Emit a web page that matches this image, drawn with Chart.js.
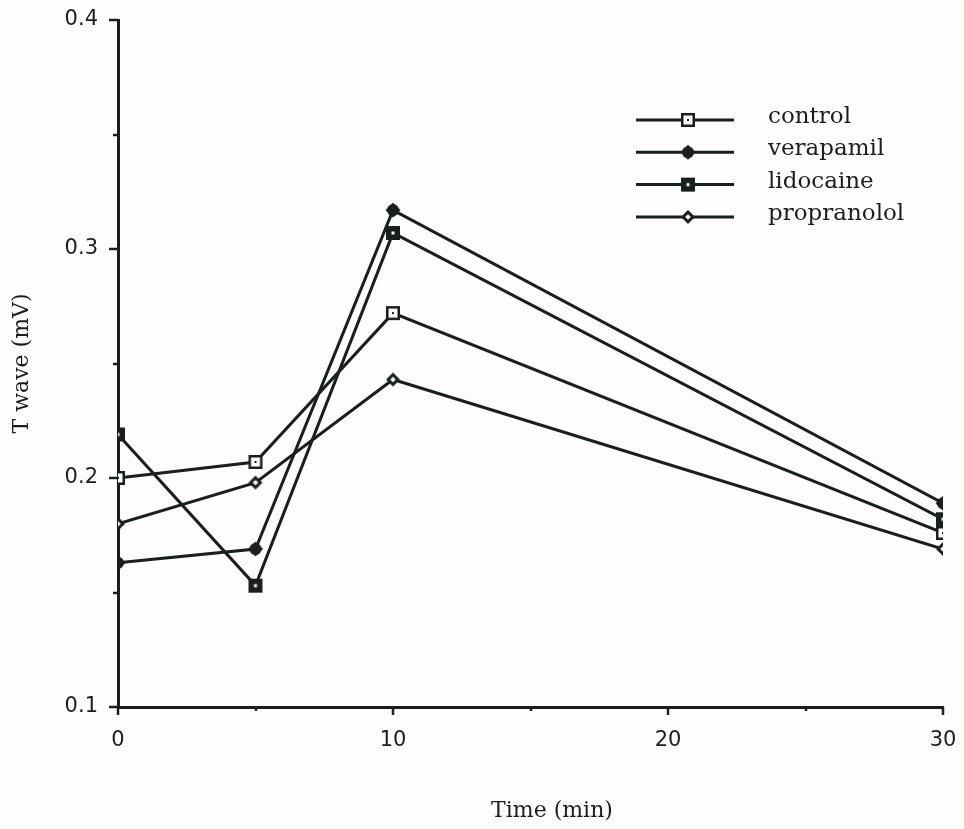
<!DOCTYPE html>
<html>
<head>
<meta charset="utf-8">
<script src="https://cdn.jsdelivr.net/npm/chart.js@4.4.1/dist/chart.umd.min.js"></script>
<style>
  html, body { margin: 0; padding: 0; background: #fdfdfb; }
  #wrap { width: 964px; height: 829px; position: relative; }
</style>
</head>
<body>
<div id="wrap"><canvas id="c" width="964" height="829"></canvas></div>
<script>
// ---- data ----
const times = [0, 5, 10, 30];
const control = [0.200, 0.207, 0.272, 0.176];
const verapamil = [0.163, 0.169, 0.317, 0.189];
const lidocaine = [0.219, 0.153, 0.307, 0.182];
const propranolol = [0.180, 0.198, 0.243, 0.169];
const seriesNames = ['control', 'verapamil', 'lidocaine', 'propranolol'];
const yTickLabels = [0.1, 0.2, 0.3, 0.4];
const xTickLabels = [0, 10, 20, 30];
const xTitle = 'Time (min)';
const yTitle = 'T wave (mV)';

const INK = '#17201b';

function marker(kind) {
  const c = document.createElement('canvas');
  c.width = 18; c.height = 18;
  const g = c.getContext('2d');
  g.fillStyle = INK;
  if (kind === 'control') {
    g.fillRect(2, 2, 14, 14);
    g.fillStyle = '#ffffff';
    g.fillRect(4.5, 4.5, 9, 9);
    g.fillStyle = INK;
    g.fillRect(8, 8, 2, 2);
  } else if (kind === 'lidocaine') {
    g.fillRect(2, 2, 14, 14);
    g.fillStyle = '#ffffff';
    g.fillRect(7.5, 7.5, 3, 3);
  } else if (kind === 'verapamil') {
    g.beginPath();
    g.moveTo(9, 1.5); g.lineTo(16.5, 9); g.lineTo(9, 16.5); g.lineTo(1.5, 9); g.closePath();
    g.fill();
    g.beginPath(); g.arc(9, 9, 6, 0, Math.PI * 2); g.fill();
  } else {
    g.beginPath();
    g.moveTo(9, 2); g.lineTo(16, 9); g.lineTo(9, 16); g.lineTo(2, 9); g.closePath();
    g.fill();
    g.fillStyle = '#ffffff';
    g.beginPath();
    g.moveTo(9, 6.2); g.lineTo(11.8, 9); g.lineTo(9, 11.8); g.lineTo(6.2, 9); g.closePath();
    g.fill();
  }
  return c;
}

const seriesValues = [control, verapamil, lidocaine, propranolol];
const markers = seriesNames.map(marker);

const datasets = seriesNames.map((name, i) => ({
  label: name,
  data: times.map((t, j) => ({ x: t, y: seriesValues[i][j] })),
  borderColor: INK,
  backgroundColor: INK,
  borderWidth: 3,
  pointStyle: markers[i],
  pointRadius: 8,
  pointHoverRadius: 8,
  tension: 0,
  clip: 0
}));

const tickPlugin = {
  id: 'ticksAndLegend',
  afterDraw(chart) {
    const ctx = chart.ctx;
    const xs = chart.scales.x, ys = chart.scales.y;
    const area = chart.chartArea;
    ctx.save();
    ctx.strokeStyle = INK;
    ctx.lineWidth = 2.5;
    // y ticks
    for (let v = 0.1; v <= 0.4001; v += 0.05) {
      const y = Math.round(ys.getPixelForValue(v));
      const major = yTickLabels.some(t => Math.abs(t - v) < 1e-6);
      ctx.beginPath();
      ctx.moveTo(area.left, y);
      ctx.lineTo(area.left - (major ? 9 : 5), y);
      ctx.stroke();
    }
    // x ticks
    for (let v = 0; v <= 30; v += 5) {
      const x = Math.round(xs.getPixelForValue(v));
      const major = xTickLabels.includes(v);
      ctx.beginPath();
      ctx.moveTo(x, area.bottom);
      ctx.lineTo(x, area.bottom + (major ? 8 : 4));
      ctx.stroke();
    }
    // x axis title
    ctx.fillStyle = INK;
    ctx.font = '22px "DejaVu Serif"';
    ctx.textAlign = 'center';
    ctx.textBaseline = 'middle';
    ctx.fillText(xTitle, 552, 811);
    // legend
    const lx0 = 636, lx1 = 734, mx = 688, tx = 768;
    let ly = 120;
    ctx.textAlign = 'left';
    ctx.font = '23px "DejaVu Serif"';
    chart.data.datasets.forEach((ds, i) => {
      ctx.beginPath();
      ctx.lineWidth = 3;
      ctx.moveTo(lx0, ly); ctx.lineTo(lx1, ly); ctx.stroke();
      ctx.drawImage(markers[i], mx - 9, ly - 9, 18, 18);
      ctx.fillText(ds.label, tx, ly - 3);
      ly += 32.3;
    });
    ctx.restore();
  }
};

new Chart(document.getElementById('c'), {
  type: 'line',
  data: { datasets },
  plugins: [tickPlugin],
  options: {
    responsive: false,
    animation: false,
    events: [],
    layout: { padding: { top: 20, right: 21, left: 0, bottom: 0 } },
    plugins: { legend: { display: false }, tooltip: { enabled: false } },
    scales: {
      x: {
        type: 'linear',
        min: 0, max: 30,
        afterFit(s) { s.height = 122; s.paddingLeft = 0; s.paddingRight = 0; },
        grid: { display: true, drawOnChartArea: false, drawTicks: false },
        border: { display: true, color: INK, width: 3 },
        ticks: {
          stepSize: 10,
          autoSkip: false,
          padding: 21,
          color: INK,
          font: { family: '"DejaVu Sans"', size: 21 },
          callback: v => xTickLabels.includes(v) ? String(v) : ''
        },
        title: { display: false }
      },
      y: {
        min: 0.1, max: 0.4,
        afterFit(s) { s.width = 118; s.paddingTop = 0; s.paddingBottom = 0; },
        grid: { display: true, drawOnChartArea: false, drawTicks: false },
        border: { display: true, color: INK, width: 3 },
        ticks: {
          stepSize: 0.1,
          autoSkip: false,
          padding: 20,
          color: INK,
          font: { family: '"DejaVu Sans"', size: 21 },
          callback: v => yTickLabels.some(t => Math.abs(t - v) < 1e-6) ? v.toFixed(1) : ''
        },
        title: {
          display: true, text: yTitle, color: INK,
          font: { family: '"DejaVu Serif"', size: 22 },
          padding: { top: 9, bottom: 0 }
        }
      }
    }
  }
});
</script>
</body>
</html>
